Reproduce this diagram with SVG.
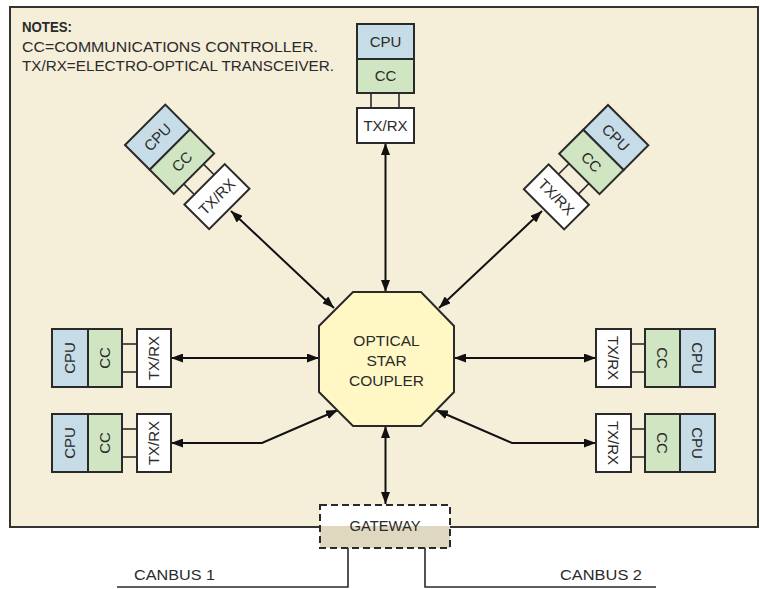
<svg xmlns="http://www.w3.org/2000/svg" width="760" height="589" viewBox="0 0 760 589">
<style>
text{font-family:"Liberation Sans",Arial,sans-serif;fill:#2a2a2a;}
.box{stroke:#2a2a2a;stroke-width:2;}
.cpu{fill:#c6dce6;}
.cc{fill:#d0e5c1;}
.tx{fill:#ffffff;}
.lnk{stroke:#2a2a2a;stroke-width:1.6;fill:none;}
.lbl{font-size:15px;text-anchor:middle;}
.arr{stroke:#111;stroke-width:2;fill:none;marker-start:url(#ah);marker-end:url(#ah);}
.bus{stroke:#2a2a2a;stroke-width:1.6;fill:none;}
</style>
<defs>
<marker id="ah" markerUnits="userSpaceOnUse" markerWidth="13" markerHeight="9" refX="12" refY="4.5" orient="auto-start-reverse">
<path d="M0,0 L12,4.5 L0,9 z" fill="#111"/>
</marker>
<g id="stack">
<rect class="box cpu" x="0" y="0" width="57" height="35"/>
<rect class="box cc" x="0" y="35" width="57" height="34"/>
<line class="lnk" x1="14" y1="69" x2="14" y2="84"/>
<line class="lnk" x1="42" y1="69" x2="42" y2="84"/>
<rect class="box tx" x="0" y="84" width="57" height="35"/>
<text class="lbl" x="28.5" y="22.9">CPU</text>
<text class="lbl" x="28.5" y="57.4">CC</text>
<text class="lbl" x="28.5" y="106.9">TX/RX</text>
</g>
</defs>
<rect id="background" x="10" y="7" width="748" height="520" fill="#f5eed9" stroke="#333" stroke-width="2"/>
<g id="notes">
<text x="22" y="32" font-size="14" font-weight="bold" textLength="50" lengthAdjust="spacingAndGlyphs">NOTES:</text>
<text x="22" y="52" font-size="15" textLength="296" lengthAdjust="spacingAndGlyphs">CC=COMMUNICATIONS CONTROLLER.</text>
<text x="22" y="71" font-size="15" textLength="312" lengthAdjust="spacingAndGlyphs">TX/RX=ELECTRO-OPTICAL TRANSCEIVER.</text>
</g>
<g id="connectors">
<path class="arr" d="M385.5,143 L385.5,292"/>
<path class="arr" d="M385.5,426 L385.5,504"/>
<path class="arr" d="M231,211 L334,308"/>
<path class="arr" d="M542,211 L439,308"/>
<path class="arr" d="M171,358 L319,358"/>
<path class="arr" d="M596,358 L454,358"/>
<path class="arr" d="M171,443 L262,443 L338,410"/>
<path class="arr" d="M596,443 L512,443 L436,410"/>
<path class="bus" d="M348,548 L348,587 L117,587"/>
<path class="bus" d="M425,548 L425,587 L656,587"/>
</g>
<g id="node-top"><use href="#stack" transform="translate(357,24)"/></g>
<g id="node-upper-left"><use href="#stack" transform="translate(125,145) rotate(-45)"/></g>
<g id="node-upper-right"><use href="#stack" transform="translate(608,105) rotate(45)"/></g>
<g id="node-left-1">
<rect class="box cpu" x="52" y="329" width="36" height="58"/>
<rect class="box cc" x="88" y="329" width="34" height="58"/>
<line class="lnk" x1="122" y1="344" x2="137" y2="344"/>
<line class="lnk" x1="122" y1="372" x2="137" y2="372"/>
<rect class="box tx" x="137" y="329" width="34" height="58"/>
<text class="lbl" transform="translate(70,358) rotate(-90)" y="5.4">CPU</text>
<text class="lbl" transform="translate(105,358) rotate(-90)" y="5.4">CC</text>
<text class="lbl" transform="translate(154,358) rotate(-90)" y="5.4">TX/RX</text>
</g>
<g id="node-left-2">
<rect class="box cpu" x="52" y="414" width="36" height="58"/>
<rect class="box cc" x="88" y="414" width="34" height="58"/>
<line class="lnk" x1="122" y1="429" x2="137" y2="429"/>
<line class="lnk" x1="122" y1="457" x2="137" y2="457"/>
<rect class="box tx" x="137" y="414" width="34" height="58"/>
<text class="lbl" transform="translate(70,443) rotate(-90)" y="5.4">CPU</text>
<text class="lbl" transform="translate(105,443) rotate(-90)" y="5.4">CC</text>
<text class="lbl" transform="translate(154,443) rotate(-90)" y="5.4">TX/RX</text>
</g>
<g id="node-right-1">
<rect class="box tx" x="596" y="329" width="35" height="58"/>
<line class="lnk" x1="631" y1="344" x2="645" y2="344"/>
<line class="lnk" x1="631" y1="372" x2="645" y2="372"/>
<rect class="box cc" x="645" y="329" width="35" height="58"/>
<rect class="box cpu" x="680" y="329" width="35" height="58"/>
<text class="lbl" transform="translate(613.5,358) rotate(90)" y="5.4">TX/RX</text>
<text class="lbl" transform="translate(662.5,358) rotate(90)" y="5.4">CC</text>
<text class="lbl" transform="translate(697.5,358) rotate(90)" y="5.4">CPU</text>
</g>
<g id="node-right-2">
<rect class="box tx" x="596" y="414" width="35" height="58"/>
<line class="lnk" x1="631" y1="429" x2="645" y2="429"/>
<line class="lnk" x1="631" y1="457" x2="645" y2="457"/>
<rect class="box cc" x="645" y="414" width="35" height="58"/>
<rect class="box cpu" x="680" y="414" width="35" height="58"/>
<text class="lbl" transform="translate(613.5,443) rotate(90)" y="5.4">TX/RX</text>
<text class="lbl" transform="translate(662.5,443) rotate(90)" y="5.4">CC</text>
<text class="lbl" transform="translate(697.5,443) rotate(90)" y="5.4">CPU</text>
</g>
<g id="star-coupler">
<polygon points="353,292 421,292 454,326 454,392 421,426 353,426 319,392 319,326" fill="#fff8c5" stroke="#2a2a2a" stroke-width="2"/>
<text x="386.5" y="346" font-size="15.5" text-anchor="middle">OPTICAL</text>
<text x="386.5" y="366" font-size="15.5" text-anchor="middle">STAR</text>
<text x="386.5" y="386" font-size="15.5" text-anchor="middle">COUPLER</text>
</g>
<g id="gateway">
<rect x="320" y="505" width="130" height="21" fill="#ffffff"/>
<rect x="320" y="526" width="130" height="22" fill="#e0d7c0"/>
<rect x="320" y="505" width="130" height="43" fill="none" stroke="#2a2a2a" stroke-width="2" stroke-dasharray="7,4"/>
<text x="385" y="531" font-size="14.5" text-anchor="middle" textLength="71" lengthAdjust="spacingAndGlyphs">GATEWAY</text>
</g>
<g id="bus-labels">
<text x="134" y="580" font-size="15" textLength="81" lengthAdjust="spacingAndGlyphs">CANBUS 1</text>
<text x="560" y="580" font-size="15" textLength="82" lengthAdjust="spacingAndGlyphs">CANBUS 2</text>
</g>
</svg>
